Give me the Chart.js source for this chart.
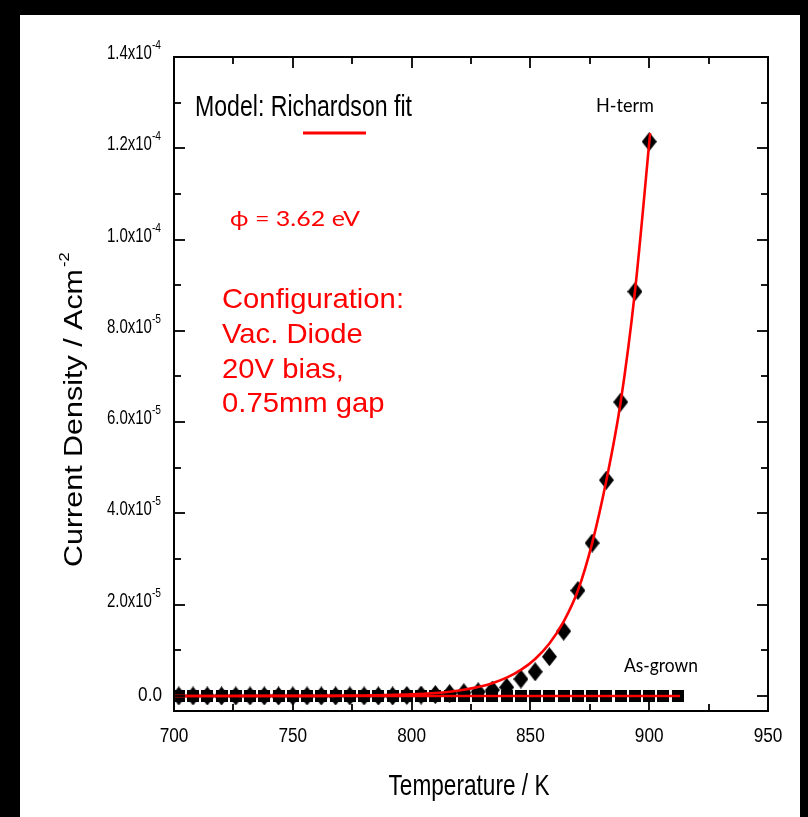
<!DOCTYPE html>
<html><head><meta charset="utf-8">
<script src="https://cdn.jsdelivr.net/npm/chart.js@4.4.0/dist/chart.umd.min.js"></script>
<style>html,body{margin:0;padding:0;background:#000;overflow:hidden}#wrap{width:808px;height:817px;position:relative}</style>
</head><body><div id="wrap"><canvas id="c" width="808" height="817"></canvas></div>
<script>
// ---- data ----
const hTermT = [702,708,714,720,726,732,738,744,750,756,762,768,774,780,786,792,798,804,810,816,822,828,834,840,846,852,858,864,870,876,882,888,894,900];
const hTermJ = [0,0,0,0,0,0,0,0,0,0,0,0,0,0,0,0,1e-7,2e-7,3e-7,5e-7,7e-7,9e-7,1.3e-6,1.9e-6,3.7e-6,5.3e-6,8.6e-6,1.42e-5,2.31e-5,3.35e-5,4.73e-5,6.44e-5,8.86e-5,1.2145e-4];
const asGrownT = [702,708,714,720,726,732,738,744,750,756,762,768,774,780,786,792,798,804,810,816,822,828,834,840,846,852,858,864,870,876,882,888,894,900,906,912];
const asGrownJ = [0,0,0,0,0,0,0,0,0,0,0,0,0,0,0,0,0,0,0,0,0,0,0,0,0,0,0,0,0,0,0,0,0,0,0,0];
const fitHT = [700,720,740,760,780,790,800,810,816,822,828,834,840,846,852,858,864,870,876,882,888,894,900.4];
const fitHJ = [0,0,4e-9,2e-8,9e-8,1.8e-7,3.4e-7,6.4e-7,9.3e-7,1.35e-6,1.95e-6,2.8e-6,4.0e-6,5.7e-6,8.1e-6,1.15e-5,1.63e-5,2.31e-5,3.35e-5,4.73e-5,6.44e-5,8.86e-5,1.233e-4];
const fitAT = [700,913];
const fitAJ = [0,0];
const xTickValues = [700,750,800,850,900,950];
const xTickLabels = ['700','750','800','850','900','950'];
const xMinorValues = [725,775,825,875,925];
const yTickValues = [0,2e-5,4e-5,6e-5,8e-5,1e-4,1.2e-4,1.4e-4];
const yTickLabels = ['0.0','2.0x10^-5','4.0x10^-5','6.0x10^-5','8.0x10^-5','1.0x10^-4','1.2x10^-4','1.4x10^-4'];
const yMinorValues = [1e-5,3e-5,5e-5,7e-5,9e-5,1.1e-4,1.3e-4];
const xTitle = 'Temperature / K';
const yTitle = 'Current Density / Acm';
const yTitleSup = '-2';
const modelText = 'Model: Richardson fit';
const phiText = '\u03D5 = 3.62 eV';
const configLines = ['Configuration:','Vac. Diode','20V bias,','0.75mm gap'];
const hTermLabel = 'H-term';
const asGrownLabel = 'As-grown';

// ---- marker images ----
function makeDiamond(){const c=document.createElement('canvas');c.width=15;c.height=19;const g=c.getContext('2d');g.fillStyle='#000';g.beginPath();g.moveTo(7.5,0);g.lineTo(15,9.5);g.lineTo(7.5,19);g.lineTo(0,9.5);g.closePath();g.fill();return c;}
function makeSquare(){const c=document.createElement('canvas');c.width=12;c.height=12;const g=c.getContext('2d');g.fillStyle='#000';g.fillRect(0,0,12,12);return c;}
const diamond = makeDiamond(), square = makeSquare();
const pts = (xs, ys) => xs.map((x,i)=>({x:x, y:ys[i]}));

function txt(ctx, s, x, y, font, color, align, sx){
  ctx.save(); ctx.font=font; ctx.fillStyle=color; ctx.textBaseline='alphabetic'; ctx.textAlign='left';
  const w = ctx.measureText(s).width*sx;
  const x0 = align==='center'? x-w/2 : align==='right'? x-w : x;
  ctx.translate(x0,y); ctx.scale(sx,1); ctx.fillText(s,0,0); ctx.restore(); return w;
}
function fitScale(ctx, s, font, target){ctx.save();ctx.font=font;const w=ctx.measureText(s).width;ctx.restore();return target/w;}

const framePlugin = {
  id:'frame',
  beforeDraw(chart){
    const ctx=chart.ctx; ctx.save(); ctx.fillStyle='#000'; ctx.fillRect(0,0,chart.width,chart.height);
    ctx.fillStyle='#fff'; ctx.fillRect(20,15,780,802); ctx.restore();
  },
  afterDatasetsDraw(chart){
    const ctx=chart.ctx, a=chart.chartArea, xs=chart.scales.x, ys=chart.scales.y;
    ctx.save();
    ctx.strokeStyle='#000'; ctx.lineWidth=2;
    ctx.strokeRect(a.left, a.top, a.right-a.left, a.bottom-a.top);
    ctx.lineWidth=1.8;
    const tick=(x1,y1,x2,y2)=>{ctx.beginPath();ctx.moveTo(x1,y1);ctx.lineTo(x2,y2);ctx.stroke();};
    const MAJ=11, MIN=7;
    xTickValues.forEach(v=>{const p=Math.round(xs.getPixelForValue(v));tick(p,a.bottom,p,a.bottom-MAJ);tick(p,a.top,p,a.top+MAJ);});
    xMinorValues.forEach(v=>{const p=Math.round(xs.getPixelForValue(v));tick(p,a.bottom,p,a.bottom-MIN);tick(p,a.top,p,a.top+MIN);});
    yTickValues.forEach(v=>{const p=Math.round(ys.getPixelForValue(v));tick(a.left,p,a.left+MAJ,p);tick(a.right,p,a.right-MAJ,p);});
    yMinorValues.forEach(v=>{const p=Math.round(ys.getPixelForValue(v));tick(a.left,p,a.left+MIN,p);tick(a.right,p,a.right-MIN,p);});
    // x tick labels
    const tf='20px "Liberation Sans", Arial, sans-serif';
    xTickValues.forEach((v,i)=>{txt(ctx,xTickLabels[i],xs.getPixelForValue(v),742,tf,'#000','center',0.86);});
    // y tick labels
    const sf='12px "Liberation Sans", Arial, sans-serif';
    yTickValues.forEach((v,i)=>{
      const p=ys.getPixelForValue(v); const lab=yTickLabels[i]; const right=161;
      if(lab.indexOf('^')<0){ txt(ctx,lab,right+1,p+5,tf,'#000','right',0.86); }
      else { const [b,e]=lab.split('^');
        ctx.save();ctx.font=sf;const we=ctx.measureText(e).width*0.85;ctx.restore();
        txt(ctx,e,right,p-8,sf,'#000','right',0.85);
        txt(ctx,b,right-we,p+2,tf,'#000','right',0.75);
      }
    });
    // axis titles
    const xf='29px "Liberation Sans", Arial, sans-serif';
    txt(ctx,xTitle,469,795,xf,'#000','center',fitScale(ctx,xTitle,xf,161));
    const yf='26px "Liberation Sans", Arial, sans-serif';
    ctx.save(); ctx.translate(82,567); ctx.rotate(-Math.PI/2);
    const yw=txt(ctx,yTitle,0,0,yf,'#000','left',fitScale(ctx,yTitle,yf,298));
    txt(ctx,yTitleSup,yw+2,-13,'15px "Liberation Sans", Arial, sans-serif','#000','left',1.1);
    ctx.restore();
    // annotations
    const mf='29px "Liberation Sans", Arial, sans-serif';
    txt(ctx,modelText,195,116,mf,'#000','left',fitScale(ctx,modelText,mf,217));
    ctx.strokeStyle='#ff0000'; ctx.lineWidth=3; tick(303,133,366,133);
    const pf='21px Lato, "Open Sans", sans-serif';
    txt(ctx,phiText,230,226,pf,'#ff0000','left',fitScale(ctx,phiText,pf,130));
    const cf='28px "Liberation Sans", Arial, sans-serif';
    const csx=fitScale(ctx,configLines[0],cf,182);
    const cb=[308,343,378,412];
    configLines.forEach((l,i)=>txt(ctx,l,222,cb[i],cf,'#ff0000','left',csx));
    const lf='19px Lato, "Open Sans", sans-serif';
    txt(ctx,hTermLabel,625,112,lf,'#000','center',fitScale(ctx,hTermLabel,lf,58));
    txt(ctx,asGrownLabel,624,672,lf,'#000','left',fitScale(ctx,asGrownLabel,lf,74));
    ctx.restore();
  }
};

new Chart(document.getElementById('c'),{
  type:'scatter',
  data:{datasets:[
    {label:'Richardson fit (H-term)',data:pts(fitHT,fitHJ),showLine:true,borderColor:'#ff0000',borderWidth:2.6,pointRadius:0,cubicInterpolationMode:'monotone',fill:false},
    {label:'Richardson fit (As-grown)',data:pts(fitAT,fitAJ),showLine:true,borderColor:'#ff0000',borderWidth:2.6,pointRadius:0,fill:false},
    {label:'H-term',data:pts(hTermT,hTermJ),pointStyle:diamond,pointRadius:8,backgroundColor:'#000',borderColor:'#000'},
    {label:'As-grown',data:pts(asGrownT,asGrownJ),pointStyle:square,pointRadius:6,backgroundColor:'#000',borderColor:'#000'}
  ]},
  options:{
    responsive:false, animation:false, devicePixelRatio:1,
    layout:{padding:{left:174,right:40,top:57,bottom:106}},
    scales:{
      x:{type:'linear',min:700,max:950,display:false},
      y:{type:'linear',min:-3.3e-6,max:1.4e-4,display:false}
    },
    plugins:{legend:{display:false},tooltip:{enabled:false}}
  },
  plugins:[framePlugin]
});
</script></body></html>
